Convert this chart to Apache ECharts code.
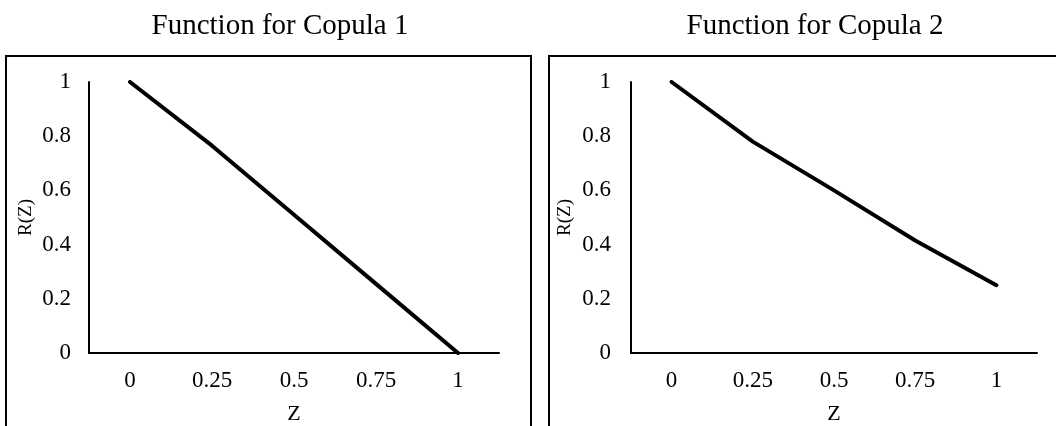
<!DOCTYPE html>
<html>
<head>
<meta charset="utf-8">
<script src="https://cdn.jsdelivr.net/npm/echarts@6/dist/echarts.min.js"></script>
<style>
  html, body { margin: 0; padding: 0; background: #fff; }
  #c1 { width: 1056px; height: 426px; }
</style>
</head>
<body>
<div id="c1"></div>
<script>
// data
const zLabels = ['0', '0.25', '0.5', '0.75', '1']
const copula1 = [1, 0.765, 0.51, 0.255, 0]
const copula2 = [1, 0.78, 0.6, 0.415, 0.25]
const titles = ['Function for Copula 1', 'Function for Copula 2']

const serif = '"Liberation Serif", "Times New Roman", serif'

const xAxisOf = (gridIndex) => ({
  type: 'category',
  gridIndex,
  data: zLabels,
  boundaryGap: true,
  name: 'Z',
  nameLocation: 'middle',
  nameGap: 50,
  nameTextStyle: { fontFamily: serif, fontSize: 22, color: '#000' },
  axisLine: { lineStyle: { color: '#000', width: 2 } },
  axisTick: { show: false },
  axisLabel: { fontFamily: serif, fontSize: 23, color: '#000', margin: 16 },
  splitLine: { show: false }
})

const yAxisOf = (gridIndex, nameGap, labelMargin) => ({
  type: 'value',
  gridIndex,
  min: 0,
  max: 1,
  interval: 0.2,
  name: 'R(Z)',
  nameLocation: 'middle',
  nameGap,
  nameRotate: 90,
  nameTextStyle: { fontFamily: serif, fontSize: 19, color: '#000' },
  axisLine: { show: true, lineStyle: { color: '#000', width: 2 } },
  axisTick: { show: false },
  axisLabel: { fontFamily: serif, fontSize: 23, color: '#000', margin: labelMargin },
  splitLine: { show: false }
})

const lineOf = (i, data) => ({
  type: 'line',
  xAxisIndex: i,
  yAxisIndex: i,
  data,
  symbol: 'none',
  lineStyle: { color: '#000', width: 4, cap: 'round', join: 'round' },
  animation: false
})

const myChart = echarts.init(document.getElementById('c1'))
const option = {
  backgroundColor: '#fff',
  animation: false,
  title: [
    { text: titles[0], left: 275, top: 7, textAlign: 'center',
      textStyle: { fontFamily: serif, fontSize: 29, fontWeight: 'normal', color: '#000' } },
    { text: titles[1], left: 810, top: 7, textAlign: 'center',
      textStyle: { fontFamily: serif, fontSize: 29, fontWeight: 'normal', color: '#000' } }
  ],
  grid: [
    { left: 89, right: 557, top: 82, bottom: 73, outerBoundsMode: 'none', containLabel: false },
    { left: 631, right: 19, top: 82, bottom: 73, outerBoundsMode: 'none', containLabel: false }
  ],
  xAxis: [xAxisOf(0), xAxisOf(1)],
  yAxis: [yAxisOf(0, 53, 18), yAxisOf(1, 56, 20)],
  series: [lineOf(0, copula1), lineOf(1, copula2)],
  graphic: [
    { type: 'rect', shape: { x: 6, y: 56, width: 525, height: 380 },
      style: { fill: 'none', stroke: '#000', lineWidth: 2 } },
    { type: 'rect', shape: { x: 549, y: 56, width: 520, height: 380 },
      style: { fill: 'none', stroke: '#000', lineWidth: 2 } }
  ]
}
myChart.setOption(option)
</script>
</body>
</html>
